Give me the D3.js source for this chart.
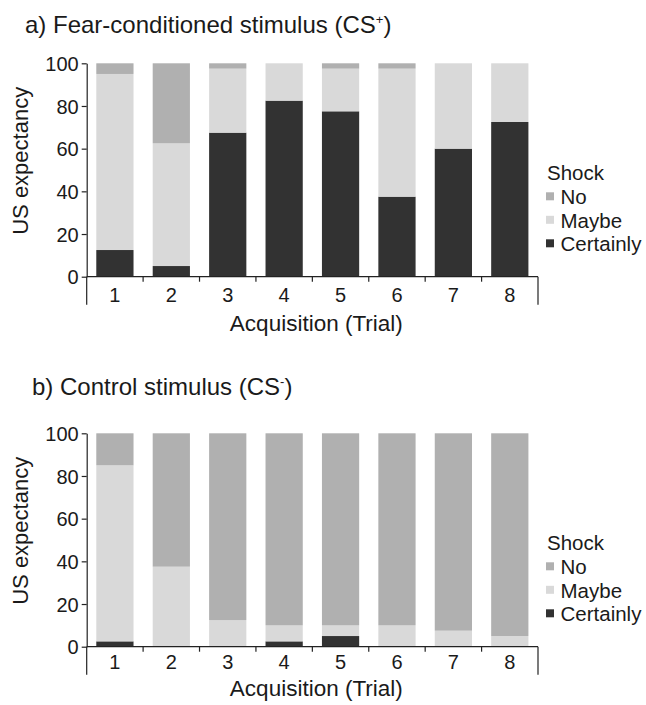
<!DOCTYPE html>
<html>
<head>
	<script src="https://cdn.jsdelivr.net/npm/d3@7"></script>
	<style>
		html, body {
			padding: 0;
			margin: 0;
			background: #fff;
		}
		svg text {
			font-family: "Liberation Sans", Arial, Helvetica, sans-serif;
			fill: #1a1a1a;
		}
	</style>
</head>
<body>
	<script>
		var width = 646, height = 705;

		/* data (percent of participants) */
		var trials = ["1", "2", "3", "4", "5", "6", "7", "8"];
		var responses = ["Certainly", "Maybe", "No"];
		var legendOrder = ["No", "Maybe", "Certainly"];
		var yTicks = [0, 20, 40, 60, 80, 100];

		var csPlusCertainly = [12.5, 5, 67.5, 82.5, 77.5, 37.5, 60, 72.5];
		var csPlusMaybe     = [82.5, 57.5, 30, 17.5, 20, 60, 40, 27.5];
		var csPlusNo        = [5, 37.5, 2.5, 0, 2.5, 2.5, 0, 0];

		var csMinusCertainly = [2.5, 0, 0, 2.5, 5, 0, 0, 0];
		var csMinusMaybe     = [82.5, 37.5, 12.5, 7.5, 5, 10, 7.5, 5];
		var csMinusNo        = [15, 62.5, 87.5, 90, 90, 90, 92.5, 95];

		var colors = {Certainly: "#323232", Maybe: "#d9d9d9", No: "#b0b0b0"};

		var svg = d3.select("body").append("svg")
			.attr("width", width)
			.attr("height", height);

		var build_rows = function(c, m, n) {
			return trials.map(function(t, i) {
				return {trial: t, Certainly: c[i], Maybe: m[i], No: n[i]};
			});
		};

		var panels = [
			{title: "a) Fear-conditioned stimulus (CS", sup: "+", titleX: 25, titleY: 33,
			 top: 63.3, tickDy: 25.5, labelDy: 54.5,
			 rows: build_rows(csPlusCertainly, csPlusMaybe, csPlusNo)},
			{title: "b) Control stimulus (CS", sup: "-", titleX: 32, titleY: 395,
			 top: 433.3, tickDy: 22, labelDy: 49.5,
			 rows: build_rows(csMinusCertainly, csMinusMaybe, csMinusNo)}
		];

		var plotH = 213.4;
		var x = d3.scaleBand()
			.domain(trials)
			.range([86.7, 538])
			.paddingInner(0.34)
			.paddingOuter(0.17);

		var stack = d3.stack().keys(responses);

		panels.forEach(function(p) {
			var g = svg.append("g");
			var y = d3.scaleLinear().domain([0, 100]).range([p.top + plotH, p.top]);
			var y0 = y(0);

			// title with superscript
			var t = g.append("text")
				.attr("x", p.titleX)
				.attr("y", p.titleY)
				.style("font-size", "24px");
			t.append("tspan").text(p.title);
			t.append("tspan").text(p.sup)
				.attr("dy", -9)
				.style("font-size", "13px");
			t.append("tspan").text(")")
				.attr("dy", 9);

			// stacked bars
			var series = stack(p.rows);
			g.selectAll("g.series")
				.data(series)
				.enter().append("g")
				.attr("fill", function(d) { return colors[d.key]; })
				.selectAll("rect")
				.data(function(d) { return d; })
				.enter().append("rect")
				.attr("x", function(d) { return x(d.data.trial); })
				.attr("width", x.bandwidth())
				.attr("y", function(d) { return y(d[1]); })
				.attr("height", function(d) { return y(d[0]) - y(d[1]); });

			// y axis
			var yAxis = g.append("g")
				.attr("transform", "translate(86.7,0)")
				.call(d3.axisLeft(y).tickValues(yTicks).tickSize(5).tickSizeOuter(0));
			yAxis.selectAll("text")
				.style("font-size", "20px")
				.attr("x", -8)
				.attr("dy", "0.36em");
			yAxis.selectAll("line, path").attr("stroke", "#222").attr("stroke-width", 1.2);

			// x axis: boundary ticks, long at both ends
			var xr = x.range();
			g.append("line")
				.attr("x1", xr[0]).attr("x2", xr[1])
				.attr("y1", y0).attr("y2", y0)
				.attr("stroke", "#222").attr("stroke-width", 1.2);
			var bounds = d3.range(trials.length + 1).map(function(i) { return xr[0] + i * x.step(); });
			g.selectAll("line.bound")
				.data(bounds)
				.enter().append("line")
				.attr("class", "bound")
				.attr("x1", function(d) { return d; })
				.attr("x2", function(d) { return d; })
				.attr("y1", y0)
				.attr("y2", function(d, i) { return (i === 0 || i === trials.length) ? y0 + 28 : y0 + 5; })
				.attr("stroke", "#222").attr("stroke-width", 1.2);

			g.selectAll("text.xtick")
				.data(trials)
				.enter().append("text")
				.attr("class", "xtick")
				.attr("x", function(d) { return x(d) + x.bandwidth() / 2; })
				.attr("y", y0 + p.tickDy)
				.attr("text-anchor", "middle")
				.style("font-size", "20px")
				.text(function(d) { return d; });

			g.append("text")
				.attr("x", (xr[0] + xr[1]) / 2 + 4)
				.attr("y", y0 + p.labelDy)
				.attr("text-anchor", "middle")
				.style("font-size", "22.5px")
				.text("Acquisition (Trial)");

			g.append("text")
				.attr("transform", "translate(28," + (p.top + 97.5) + ") rotate(-90)")
				.attr("text-anchor", "middle")
				.style("font-size", "22px")
				.text("US expectancy");

			// legend
			var lg = g.append("g").attr("transform", "translate(546," + (p.top + 117) + ")");
			lg.append("text")
				.attr("x", 1).attr("y", 0)
				.style("font-size", "20.5px")
				.text("Shock");
			var items = lg.selectAll("g.item")
				.data(legendOrder)
				.enter().append("g")
				.attr("transform", function(d, i) { return "translate(0," + (24 + i * 23.5) + ")"; });
			items.append("rect")
				.attr("x", 0).attr("y", -12)
				.attr("width", 8).attr("height", 8)
				.attr("fill", function(d) { return colors[d]; });
			items.append("text")
				.attr("x", 14.5).attr("y", 0)
				.style("font-size", "20.5px")
				.text(function(d) { return d; });
		});
	</script>
</body>
</html>
